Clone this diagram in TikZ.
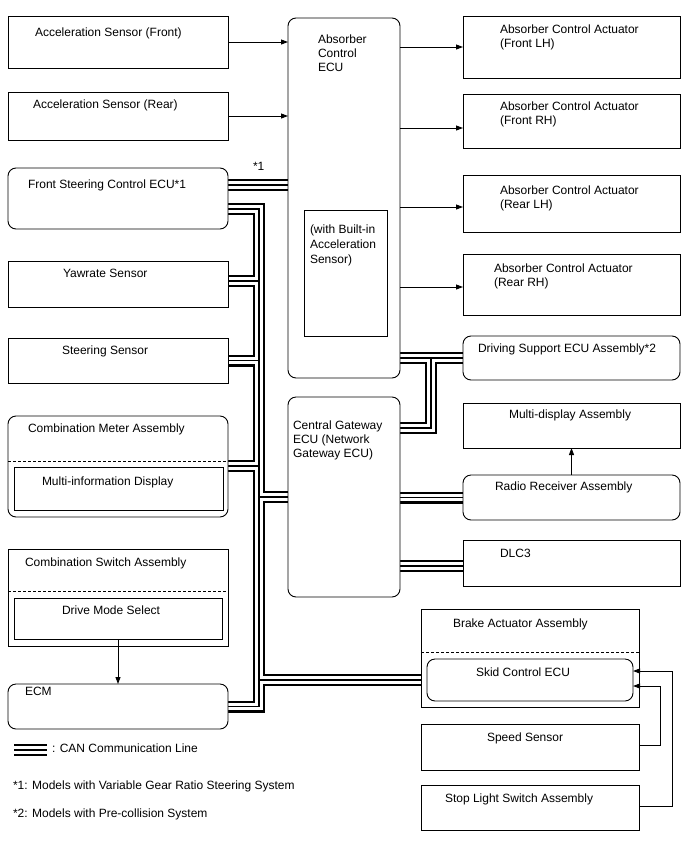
\documentclass[tikz,border=0pt]{standalone}
\usepackage{fontspec}
\setmainfont{Liberation Sans}
\usetikzlibrary{arrows.meta,fit}
\pgfdeclarelayer{bg}
\pgfsetlayers{bg,main}
\newcommand\canlayer[1]{%
  \draw[#1] (fs.east |- 0,185) -- (abs.west |- 0,185);
  \draw[#1] (fs.east |- 0,209) -| (trk |- ecm.east) -- (ecm.east);
  \draw[#1] (yaw.east |- 0,281) -- (trk |- 0,281);
  \draw[#1] (ss.east) -- (ss.east -| trk);
  \draw[#1] (cm.east |- 0,466) -- (trk |- 0,466);
  \draw[#1] (trk |- 0,497) -- (cg.west |- 0,497);
  \draw[#1] (trk |- skid.west) -- (skid.west);
  \draw[#1] (abs.east |- ds.west) -- (ds.west);
  \draw[#1] (jc |- ds.west) |- (cg.east |- 0,428);
  \draw[#1] (cg.east |- rr.west) -- (rr.west);
  \draw[#1] (cg.east |- 0,566) -- (dlc.west |- 0,566);
  \draw[#1] (lg1) -- (lg2);
}
\begin{document}
\begin{tikzpicture}[x=1pt,y=-1pt,
  box/.style={draw, line width=0.9pt, fill=white, inner sep=0pt, outer sep=0pt},
  rbox/.style={box, rounded corners=8pt},
  txt/.style={inner sep=0pt, outer sep=0pt, font=\fontsize{12}{14}\selectfont, align=left},
  arr/.style={line width=0.9pt, -{Triangle[length=7pt,width=5pt]}},
  dsh/.style={line width=0.9pt, dash pattern=on 3pt off 2pt},
]
\useasboundingbox (0,0) rectangle (688,852);

% boxes
\node[box, fit={(8,16)(228,68)}] (accf) {};
\node[box, fit={(8,92)(228,140)}] (accr) {};
\node[rbox, fit={(8,168)(228,229)}] (fs) {};
\node[box, fit={(8,261)(228,307)}] (yaw) {};
\node[box, fit={(8,338)(228,383)}] (ss) {};
\node[rbox, fit={(8,416)(228,517)}] (cm) {};
\node[box, fit={(14,467)(223,510)}] (mid) {};
\node[box, fit={(8,549)(228,646)}] (cs) {};
\node[box, fit={(14,598)(222,639)}] (dms) {};
\node[rbox, fit={(8,684)(228,729)}] (ecm) {};
\node[rbox, fit={(288,18)(400,378)}] (abs) {};
\node[box, fit={(304,210)(387,336)}] (bi) {};
\node[rbox, fit={(288,397)(400,597)}] (cg) {};
\node[box, fit={(463,16)(680,78)}] (a1) {};
\node[box, fit={(463,94)(680,148)}] (a2) {};
\node[box, fit={(463,175)(680,232)}] (a3) {};
\node[box, fit={(463,254)(680,315)}] (a4) {};
\node[rbox, fit={(463,336)(680,380)}] (ds) {};
\node[box, fit={(463,403)(680,448)}] (md) {};
\node[rbox, fit={(463,475)(680,520)}] (rr) {};
\node[box, fit={(463,540)(680,586)}] (dlc) {};
\node[box, fit={(421,609)(639,707)}] (ba) {};
\node[rbox, fit={(427,659)(633,701)}] (skid) {};
\node[box, fit={(421,724)(639,770)}] (sp) {};
\node[box, fit={(421,785)(639,830)}] (sl) {};

% dashed separators
\draw[dsh] (cm.west |- 0,461) -- (cm.east |- 0,461);
\draw[dsh] (cs.west |- 0,591) -- (cs.east |- 0,591);
\draw[dsh] (ba.west |- 0,652) -- (ba.east |- 0,652);

% texts
\node[txt, anchor=base west] (t-accf) at (35,36) {Acceleration Sensor (Front)};
\node[txt, anchor=base west] (t-accr) at (33,108) {Acceleration Sensor (Rear)};
\node[txt, anchor=base west] (t-fs) at (28,188) {Front Steering Control ECU*1};
\node[txt, anchor=base west] (t-yaw) at (63,277) {Yawrate Sensor};
\node[txt, anchor=base west] (t-ss) at (62,354) {Steering Sensor};
\node[txt, anchor=base west] (t-cm) at (28,432) {Combination Meter Assembly};
\node[txt, anchor=base west] (t-mid) at (42,485) {Multi-information Display};
\node[txt, anchor=base west] (t-cs) at (25,566) {Combination Switch Assembly};
\node[txt, anchor=base west] (t-dms) at (62,614) {Drive Mode Select};
\node[txt, anchor=base west] (t-ecm) at (25,695) {ECM};
\node[txt, anchor=north west] (t-abs) at (318,35) {Absorber\\Control\\ECU};
\node[txt, anchor=north west, font=\fontsize{12}{15}\selectfont] (t-bi) at (310,225) {(with Built-in\\Acceleration\\Sensor)};
\node[txt, anchor=north west] (t-cg) at (293,421) {Central Gateway\\ECU (Network\\Gateway ECU)};
\node[txt, anchor=north west] (t-a1) at (500,25) {Absorber Control Actuator\\(Front LH)};
\node[txt, anchor=north west] (t-a2) at (500,102) {Absorber Control Actuator\\(Front RH)};
\node[txt, anchor=north west] (t-a3) at (500,186) {Absorber Control Actuator\\(Rear LH)};
\node[txt, anchor=north west] (t-a4) at (494,264) {Absorber Control Actuator\\(Rear RH)};
\node[txt, anchor=base west] (t-ds) at (478,352) {Driving Support ECU Assembly*2};
\node[txt, anchor=base west] (t-md) at (509,418) {Multi-display Assembly};
\node[txt, anchor=base west] (t-rr) at (495,490) {Radio Receiver Assembly};
\node[txt, anchor=base west] (t-dlc) at (500,557) {DLC3};
\node[txt, anchor=base west] (t-ba) at (453,627) {Brake Actuator Assembly};
\node[txt, anchor=base west] (t-skid) at (476,676) {Skid Control ECU};
\node[txt, anchor=base west] (t-sp) at (487,741) {Speed Sensor};
\node[txt, anchor=base west] (t-sl) at (445,802) {Stop Light Switch Assembly};
\node[txt, anchor=base west] (t-n1) at (253,170) {*1};
\node[txt, anchor=base west] (t-lg) at (52,752) {: CAN Communication Line};
\node[txt, anchor=base west] (t-f1) at (13,789) {*1: Models with Variable Gear Ratio Steering System};
\node[txt, anchor=base west] (t-f2) at (13,817) {*2: Models with Pre-collision System};

% bus coordinates
\coordinate (trk) at (259,0);
\coordinate (jc) at (431,358);
\coordinate (lg1) at (14,750);
\coordinate (lg2) at (47,750);

\begin{pgfonlayer}{bg}
  \fill[white] (0,0) rectangle (688,852);
  \canlayer{line width=12pt, line join=miter}
  \canlayer{white, line width=7.4pt, line join=miter}
  \canlayer{line width=1.2pt, line join=miter}
\end{pgfonlayer}

% arrows
\draw[arr] (accf.east) -- (accf.east -| abs.west);
\draw[arr] (accr.east) -- (accr.east -| abs.west);
\draw[arr] (abs.east |- 0,47) -- (a1.west |- 0,47);
\draw[arr] (abs.east |- 0,128) -- (a2.west |- 0,128);
\draw[arr] (abs.east |- 0,207) -- (a3.west |- 0,207);
\draw[arr] (abs.east |- 0,287) -- (a4.west |- 0,287);
\draw[arr] (rr.north) -- (md.south);
\draw[arr] (dms.south) -- (ecm.north);
\draw[arr] (sp.east |- 0,745) -| (660,686) -- (skid.east |- 0,686);
\draw[arr] (sl.east |- 0,806) -| (672,671) -- (skid.east |- 0,671);
\end{tikzpicture}
\end{document}
